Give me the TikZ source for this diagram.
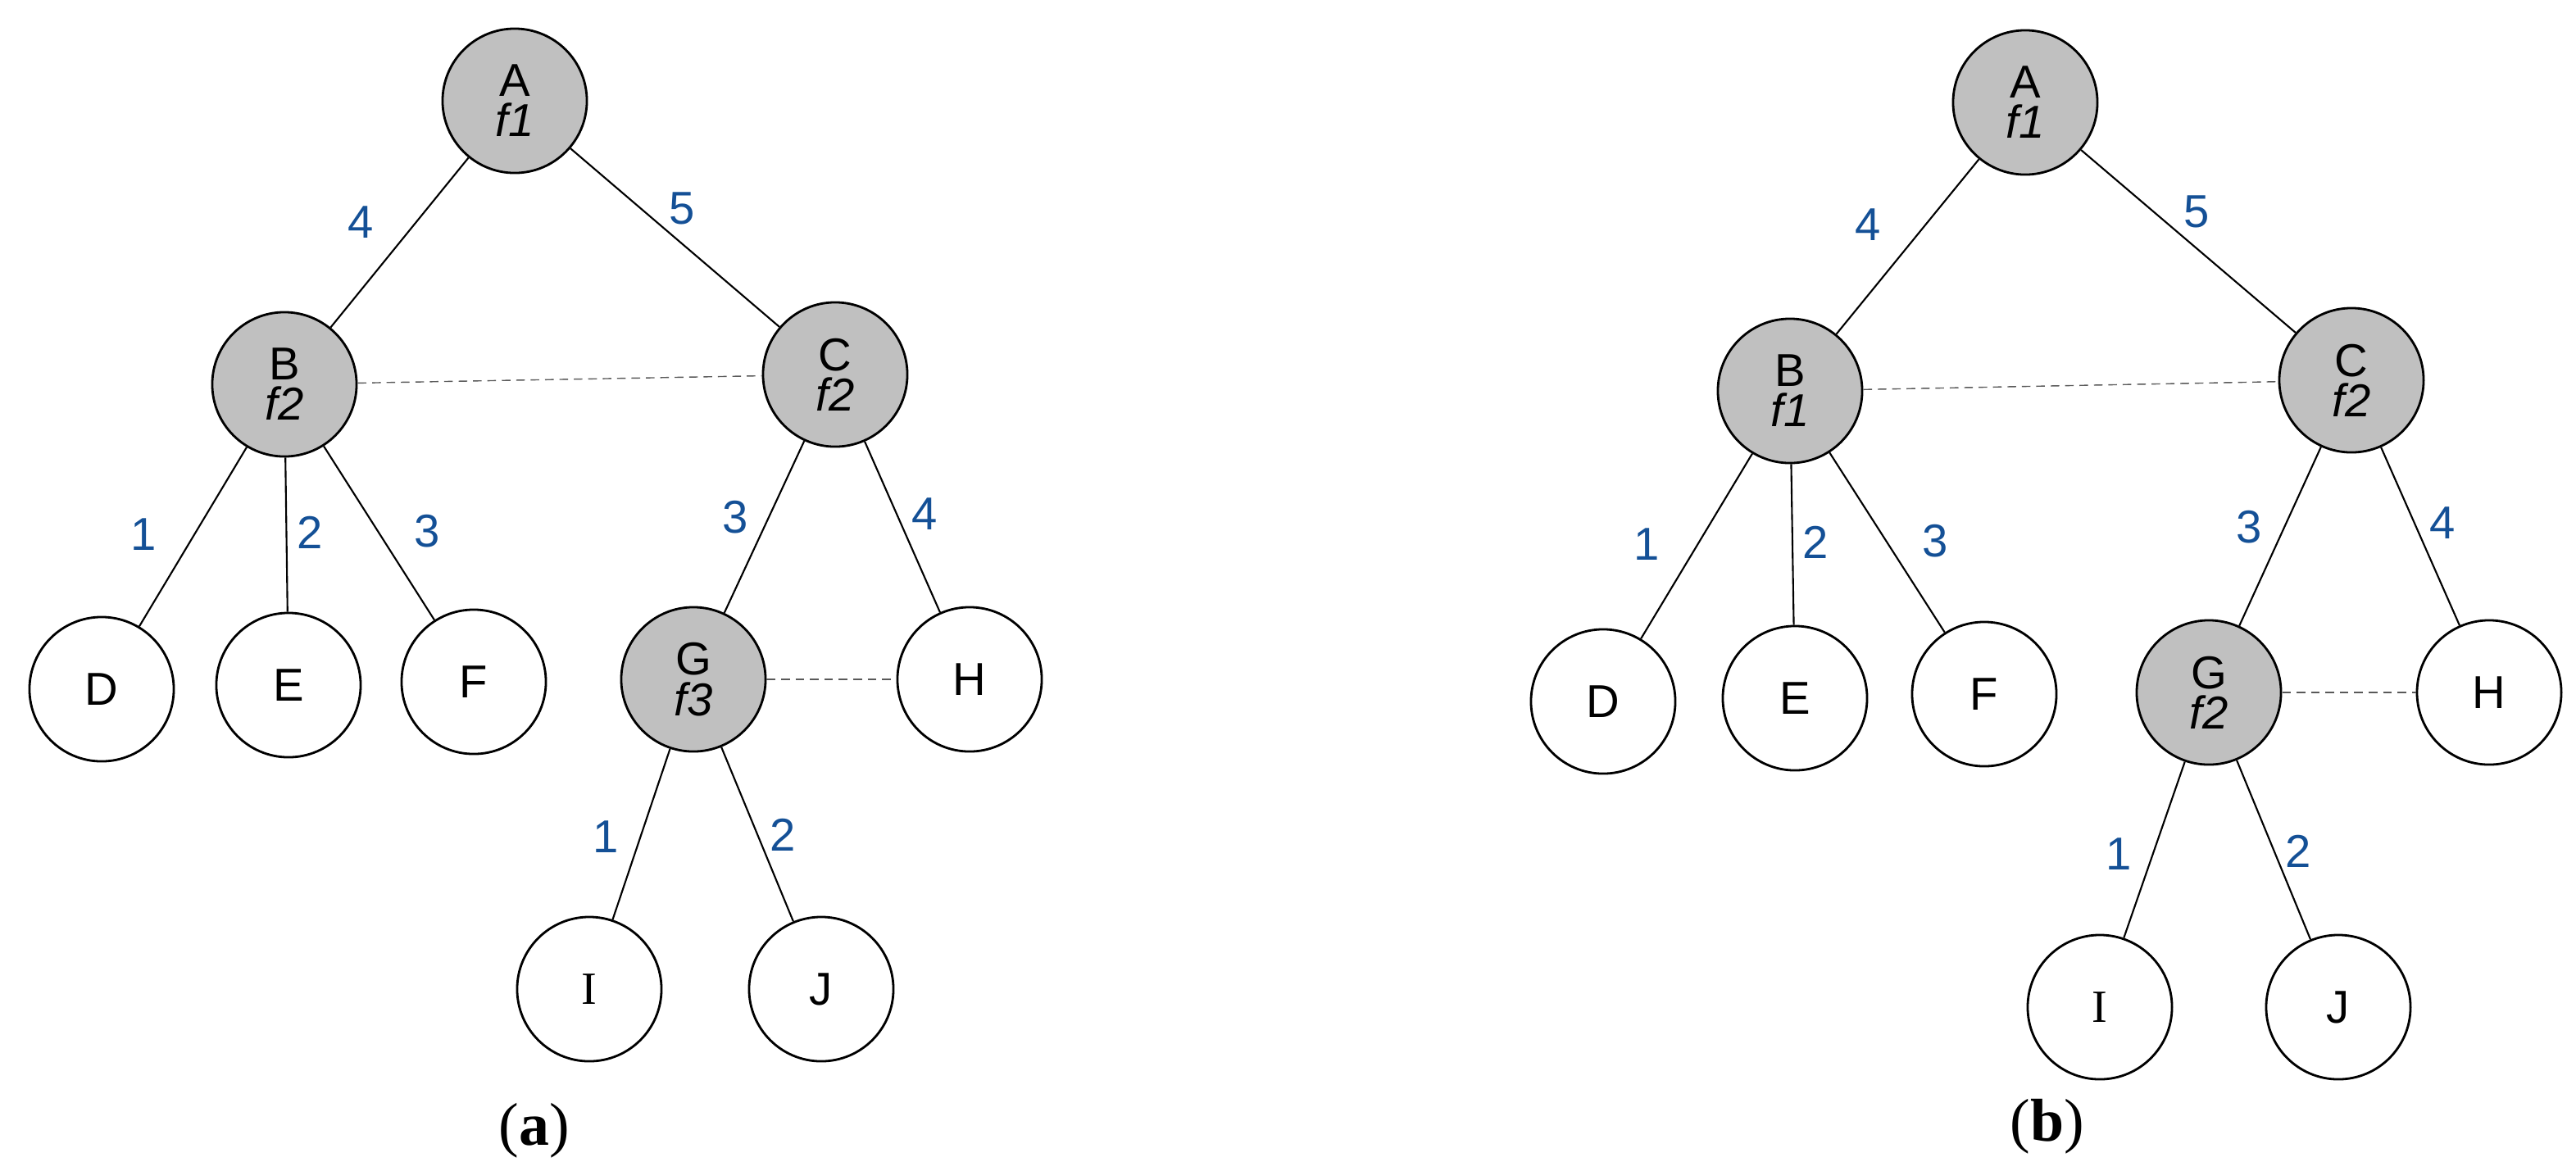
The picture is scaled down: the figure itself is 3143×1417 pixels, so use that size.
\documentclass[tikz,border=0pt]{standalone}
\usepackage{fontspec}
\setmainfont{Liberation Serif}
\setsansfont{Liberation Sans}
\usetikzlibrary{calc}

\definecolor{lblblue}{RGB}{20,80,150}
\definecolor{nodegray}{RGB}{192,192,192}

\tikzset{
  vtx/.style={circle,draw,thick,minimum size=1.76cm,inner sep=0pt,
    font=\sffamily\fontsize{16}{14}\selectfont,align=center},
  hit/.style={vtx,fill=nodegray},
  lbl/.style={text=lblblue,font=\sffamily\fontsize{16}{16}\selectfont},
  tie/.style={densely dashed,thin,gray!70!black},
  subcap/.style={font=\rmfamily\fontsize{21}{21}\selectfont}
}

\begin{document}
\begin{tikzpicture}[x=0.01cm,y=-0.01cm,semithick]
  \useasboundingbox (0,0) rectangle (3143,1417);

  % panel (a)
  \node[hit] (aA) at ( 628, 123) {A\\\textit{f1}};
  \node[hit] (aB) at ( 347, 469) {B\\\textit{f2}};
  \node[hit] (aC) at (1019, 457) {C\\\textit{f2}};
  \node[vtx] (aD) at ( 124, 841) {D};
  \node[vtx] (aE) at ( 352, 836) {E};
  \node[vtx] (aF) at ( 578, 832) {F};
  \node[hit] (aG) at ( 846, 829) {G\\\textit{f3}};
  \node[vtx] (aH) at (1183, 829) {H};
  \node[vtx] (aI) at ( 719,1207) {\rmfamily I};
  \node[vtx] (aJ) at (1002,1207) {J};

  \draw (aA) -- (aB);
  \draw (aA) -- (aC);
  \draw (aB) -- (aD);
  \draw (aB) -- (aE);
  \draw (aB) -- (aF);
  \draw (aC) -- (aG);
  \draw (aC) -- (aH);
  \draw (aG) -- (aI);
  \draw (aG) -- (aJ);
  \draw[tie] (aB) -- (aC);
  \draw[tie] (aG) -- (aH);

  \node[lbl] (la1) at ( 440, 271) {4};
  \node[lbl] (la2) at ( 832, 254) {5};
  \node[lbl] (la3) at ( 175, 652) {1};
  \node[lbl] (la4) at ( 378, 650) {2};
  \node[lbl] (la5) at ( 521, 648) {3};
  \node[lbl] (la6) at ( 897, 631) {3};
  \node[lbl] (la7) at (1128, 627) {4};
  \node[lbl] (la8) at ( 739,1021) {1};
  \node[lbl] (la9) at ( 955,1019) {2};
  \node[subcap] (capa) at ( 652,1380) {(\textbf{a})};

  % panel (b)
  \node[hit] (bA) at (2471, 125) {A\\\textit{f1}};
  \node[hit] (bB) at (2184, 477) {B\\\textit{f1}};
  \node[hit] (bC) at (2869, 464) {C\\\textit{f2}};
  \node[vtx] (bD) at (1956, 856) {D};
  \node[vtx] (bE) at (2190, 852) {E};
  \node[vtx] (bF) at (2421, 847) {F};
  \node[hit] (bG) at (2695, 845) {G\\\textit{f2}};
  \node[vtx] (bH) at (3037, 845) {H};
  \node[vtx] (bI) at (2562,1229) {\rmfamily I};
  \node[vtx] (bJ) at (2853,1229) {J};

  \draw (bA) -- (bB);
  \draw (bA) -- (bC);
  \draw (bB) -- (bD);
  \draw (bB) -- (bE);
  \draw (bB) -- (bF);
  \draw (bC) -- (bG);
  \draw (bC) -- (bH);
  \draw (bG) -- (bI);
  \draw (bG) -- (bJ);
  \draw[tie] (bB) -- (bC);
  \draw[tie] (bG) -- (bH);

  \node[lbl] (lb1) at (2279, 274) {4};
  \node[lbl] (lb2) at (2680, 258) {5};
  \node[lbl] (lb3) at (2009, 664) {1};
  \node[lbl] (lb4) at (2215, 662) {2};
  \node[lbl] (lb5) at (2361, 660) {3};
  \node[lbl] (lb6) at (2744, 643) {3};
  \node[lbl] (lb7) at (2980, 638) {4};
  \node[lbl] (lb8) at (2585,1042) {1};
  \node[lbl] (lb9) at (2804,1039) {2};
  \node[subcap] (capb) at (2498,1375) {(\textbf{b})};
\end{tikzpicture}
\end{document}
